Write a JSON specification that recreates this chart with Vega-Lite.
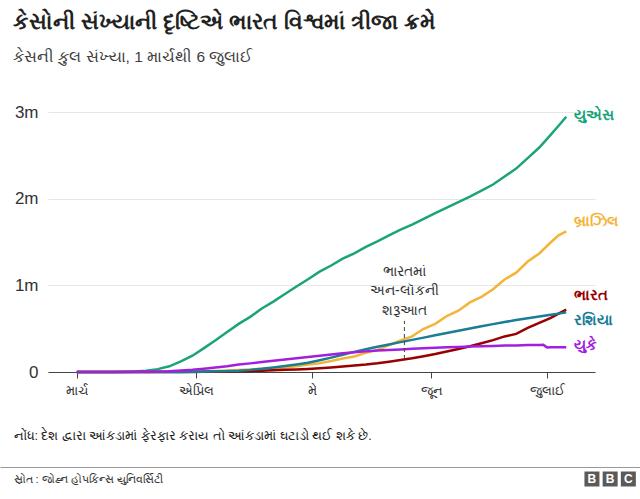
{
  "$schema": "https://vega.github.io/schema/vega-lite/v6.json",
  "background": "white",
  "padding": {"left": 13, "top": 12, "right": 0, "bottom": 0},
  "spacing": 100,
  "bounds": "flush",
  "title": {
    "text": "કેસોની સંખ્યાની દૃષ્ટિએ ભારત વિશ્વમાં ત્રીજા ક્રમે",
    "subtitle": "કેસની કુલ સંખ્યા, 1 માર્ચથી 6 જુલાઈ",
    "anchor": "start",
    "frame": "group",
    "dx": -35,
    "offset": 38,
    "fontSize": 21.5,
    "fontWeight": "bold",
    "color": "#222222",
    "subtitleFontSize": 15.5,
    "subtitleColor": "#404040",
    "subtitlePadding": 16
  },
  "config": {
    "view": {"stroke": null},
    "font": "Liberation Sans, Arial, sans-serif"
  },
  "datasets": {
    "cases": [
      {"country": "યુએસ", "date": "2020-03-01", "cases": 75},
      {"country": "યુએસ", "date": "2020-03-06", "cases": 319},
      {"country": "યુએસ", "date": "2020-03-10", "cases": 1000},
      {"country": "યુએસ", "date": "2020-03-13", "cases": 2200},
      {"country": "યુએસ", "date": "2020-03-16", "cases": 4600},
      {"country": "યુએસ", "date": "2020-03-19", "cases": 13700},
      {"country": "યુએસ", "date": "2020-03-22", "cases": 33300},
      {"country": "યુએસ", "date": "2020-03-25", "cases": 65800},
      {"country": "યુએસ", "date": "2020-03-28", "cases": 121500},
      {"country": "યુએસ", "date": "2020-03-31", "cases": 188000},
      {"country": "યુએસ", "date": "2020-04-03", "cases": 275600},
      {"country": "યુએસ", "date": "2020-04-06", "cases": 366600},
      {"country": "યુએસ", "date": "2020-04-09", "cases": 461400},
      {"country": "યુએસ", "date": "2020-04-12", "cases": 555300},
      {"country": "યુએસ", "date": "2020-04-15", "cases": 636400},
      {"country": "યુએસ", "date": "2020-04-18", "cases": 732200},
      {"country": "યુએસ", "date": "2020-04-21", "cases": 811900},
      {"country": "યુએસ", "date": "2020-04-24", "cases": 899300},
      {"country": "યુએસ", "date": "2020-04-27", "cases": 987300},
      {"country": "યુએસ", "date": "2020-04-30", "cases": 1069400},
      {"country": "યુએસ", "date": "2020-05-03", "cases": 1158000},
      {"country": "યુએસ", "date": "2020-05-06", "cases": 1229000},
      {"country": "યુએસ", "date": "2020-05-09", "cases": 1308000},
      {"country": "યુએસ", "date": "2020-05-12", "cases": 1370000},
      {"country": "યુએસ", "date": "2020-05-15", "cases": 1443000},
      {"country": "યુએસ", "date": "2020-05-18", "cases": 1508000},
      {"country": "યુએસ", "date": "2020-05-21", "cases": 1577000},
      {"country": "યુએસ", "date": "2020-05-24", "cases": 1643000},
      {"country": "યુએસ", "date": "2020-05-27", "cases": 1700000},
      {"country": "યુએસ", "date": "2020-05-30", "cases": 1767000},
      {"country": "યુએસ", "date": "2020-06-02", "cases": 1834000},
      {"country": "યુએસ", "date": "2020-06-05", "cases": 1897000},
      {"country": "યુએસ", "date": "2020-06-08", "cases": 1960000},
      {"country": "યુએસ", "date": "2020-06-11", "cases": 2024000},
      {"country": "યુએસ", "date": "2020-06-14", "cases": 2094000},
      {"country": "યુએસ", "date": "2020-06-17", "cases": 2163000},
      {"country": "યુએસ", "date": "2020-06-20", "cases": 2255000},
      {"country": "યુએસ", "date": "2020-06-23", "cases": 2347000},
      {"country": "યુએસ", "date": "2020-06-26", "cases": 2467000},
      {"country": "યુએસ", "date": "2020-06-29", "cases": 2590000},
      {"country": "યુએસ", "date": "2020-07-02", "cases": 2739000},
      {"country": "યુએસ", "date": "2020-07-04", "cases": 2841000},
      {"country": "યુએસ", "date": "2020-07-06", "cases": 2945000},
      {"country": "બ્રાઝિલ", "date": "2020-03-01", "cases": 2},
      {"country": "બ્રાઝિલ", "date": "2020-03-06", "cases": 13},
      {"country": "બ્રાઝિલ", "date": "2020-03-10", "cases": 31},
      {"country": "બ્રાઝિલ", "date": "2020-03-13", "cases": 151},
      {"country": "બ્રાઝિલ", "date": "2020-03-16", "cases": 234},
      {"country": "બ્રાઝિલ", "date": "2020-03-19", "cases": 621},
      {"country": "બ્રાઝિલ", "date": "2020-03-22", "cases": 1593},
      {"country": "બ્રાઝિલ", "date": "2020-03-25", "cases": 2554},
      {"country": "બ્રાઝિલ", "date": "2020-03-28", "cases": 3904},
      {"country": "બ્રાઝિલ", "date": "2020-03-31", "cases": 5717},
      {"country": "બ્રાઝિલ", "date": "2020-04-03", "cases": 9216},
      {"country": "બ્રાઝિલ", "date": "2020-04-06", "cases": 12240},
      {"country": "બ્રાઝિલ", "date": "2020-04-09", "cases": 17857},
      {"country": "બ્રાઝિલ", "date": "2020-04-12", "cases": 22192},
      {"country": "બ્રાઝિલ", "date": "2020-04-15", "cases": 28320},
      {"country": "બ્રાઝિલ", "date": "2020-04-18", "cases": 36722},
      {"country": "બ્રાઝિલ", "date": "2020-04-21", "cases": 43079},
      {"country": "બ્રાઝિલ", "date": "2020-04-24", "cases": 52995},
      {"country": "બ્રાઝિલ", "date": "2020-04-27", "cases": 66501},
      {"country": "બ્રાઝિલ", "date": "2020-04-30", "cases": 87187},
      {"country": "બ્રાઝિલ", "date": "2020-05-03", "cases": 101826},
      {"country": "બ્રાઝિલ", "date": "2020-05-06", "cases": 126611},
      {"country": "બ્રાઝિલ", "date": "2020-05-09", "cases": 155939},
      {"country": "બ્રાઝિલ", "date": "2020-05-12", "cases": 178214},
      {"country": "બ્રાઝિલ", "date": "2020-05-15", "cases": 220291},
      {"country": "બ્રાઝિલ", "date": "2020-05-18", "cases": 254220},
      {"country": "બ્રાઝિલ", "date": "2020-05-21", "cases": 310087},
      {"country": "બ્રાઝિલ", "date": "2020-05-24", "cases": 363211},
      {"country": "બ્રાઝિલ", "date": "2020-05-27", "cases": 411821},
      {"country": "બ્રાઝિલ", "date": "2020-05-30", "cases": 498440},
      {"country": "બ્રાઝિલ", "date": "2020-06-02", "cases": 555383},
      {"country": "બ્રાઝિલ", "date": "2020-06-05", "cases": 645771},
      {"country": "બ્રાઝિલ", "date": "2020-06-08", "cases": 707412},
      {"country": "બ્રાઝિલ", "date": "2020-06-11", "cases": 802828},
      {"country": "બ્રાઝિલ", "date": "2020-06-14", "cases": 867624},
      {"country": "બ્રાઝિલ", "date": "2020-06-17", "cases": 955377},
      {"country": "બ્રાઝિલ", "date": "2020-06-20", "cases": 1067579},
      {"country": "બ્રાઝિલ", "date": "2020-06-23", "cases": 1145906},
      {"country": "બ્રાઝિલ", "date": "2020-06-26", "cases": 1274974},
      {"country": "બ્રાઝિલ", "date": "2020-06-29", "cases": 1368195},
      {"country": "બ્રાઝિલ", "date": "2020-07-02", "cases": 1496858},
      {"country": "બ્રાઝિલ", "date": "2020-07-04", "cases": 1577004},
      {"country": "બ્રાઝિલ", "date": "2020-07-06", "cases": 1623284},
      {"country": "ભારત", "date": "2020-03-01", "cases": 3},
      {"country": "ભારત", "date": "2020-03-06", "cases": 31},
      {"country": "ભારત", "date": "2020-03-10", "cases": 56},
      {"country": "ભારત", "date": "2020-03-13", "cases": 82},
      {"country": "ભારત", "date": "2020-03-16", "cases": 114},
      {"country": "ભારત", "date": "2020-03-19", "cases": 194},
      {"country": "ભારત", "date": "2020-03-22", "cases": 396},
      {"country": "ભારત", "date": "2020-03-25", "cases": 657},
      {"country": "ભારત", "date": "2020-03-28", "cases": 987},
      {"country": "ભારત", "date": "2020-03-31", "cases": 1397},
      {"country": "ભારત", "date": "2020-04-03", "cases": 2567},
      {"country": "ભારત", "date": "2020-04-06", "cases": 4778},
      {"country": "ભારત", "date": "2020-04-09", "cases": 6725},
      {"country": "ભારત", "date": "2020-04-12", "cases": 9205},
      {"country": "ભારત", "date": "2020-04-15", "cases": 12322},
      {"country": "ભારત", "date": "2020-04-18", "cases": 15722},
      {"country": "ભારત", "date": "2020-04-21", "cases": 20080},
      {"country": "ભારત", "date": "2020-04-24", "cases": 24530},
      {"country": "ભારત", "date": "2020-04-27", "cases": 29451},
      {"country": "ભારત", "date": "2020-04-30", "cases": 34863},
      {"country": "ભારત", "date": "2020-05-03", "cases": 42836},
      {"country": "ભારત", "date": "2020-05-06", "cases": 52987},
      {"country": "ભારત", "date": "2020-05-09", "cases": 62808},
      {"country": "ભારત", "date": "2020-05-12", "cases": 74281},
      {"country": "ભારત", "date": "2020-05-15", "cases": 85784},
      {"country": "ભારત", "date": "2020-05-18", "cases": 100328},
      {"country": "ભારત", "date": "2020-05-21", "cases": 118226},
      {"country": "ભારત", "date": "2020-05-24", "cases": 138536},
      {"country": "ભારત", "date": "2020-05-27", "cases": 158086},
      {"country": "ભારત", "date": "2020-05-30", "cases": 181827},
      {"country": "ભારત", "date": "2020-06-02", "cases": 207191},
      {"country": "ભારત", "date": "2020-06-05", "cases": 236184},
      {"country": "ભારત", "date": "2020-06-08", "cases": 265928},
      {"country": "ભારત", "date": "2020-06-11", "cases": 297535},
      {"country": "ભારત", "date": "2020-06-14", "cases": 332424},
      {"country": "ભારત", "date": "2020-06-17", "cases": 367264},
      {"country": "ભારત", "date": "2020-06-20", "cases": 410461},
      {"country": "ભારત", "date": "2020-06-23", "cases": 440215},
      {"country": "ભારત", "date": "2020-06-26", "cases": 508953},
      {"country": "ભારત", "date": "2020-06-29", "cases": 566840},
      {"country": "ભારત", "date": "2020-07-02", "cases": 625544},
      {"country": "ભારત", "date": "2020-07-04", "cases": 673165},
      {"country": "ભારત", "date": "2020-07-06", "cases": 719665},
      {"country": "રશિયા", "date": "2020-03-01", "cases": 2},
      {"country": "રશિયા", "date": "2020-03-06", "cases": 4},
      {"country": "રશિયા", "date": "2020-03-10", "cases": 10},
      {"country": "રશિયા", "date": "2020-03-13", "cases": 45},
      {"country": "રશિયા", "date": "2020-03-16", "cases": 63},
      {"country": "રશિયા", "date": "2020-03-19", "cases": 199},
      {"country": "રશિયા", "date": "2020-03-22", "cases": 367},
      {"country": "રશિયા", "date": "2020-03-25", "cases": 658},
      {"country": "રશિયા", "date": "2020-03-28", "cases": 1264},
      {"country": "રશિયા", "date": "2020-03-31", "cases": 2337},
      {"country": "રશિયા", "date": "2020-04-03", "cases": 4149},
      {"country": "રશિયા", "date": "2020-04-06", "cases": 7497},
      {"country": "રશિયા", "date": "2020-04-09", "cases": 10131},
      {"country": "રશિયા", "date": "2020-04-12", "cases": 15770},
      {"country": "રશિયા", "date": "2020-04-15", "cases": 24490},
      {"country": "રશિયા", "date": "2020-04-18", "cases": 36793},
      {"country": "રશિયા", "date": "2020-04-21", "cases": 52763},
      {"country": "રશિયા", "date": "2020-04-24", "cases": 68622},
      {"country": "રશિયા", "date": "2020-04-27", "cases": 87147},
      {"country": "રશિયા", "date": "2020-04-30", "cases": 106498},
      {"country": "રશિયા", "date": "2020-05-03", "cases": 134687},
      {"country": "રશિયા", "date": "2020-05-06", "cases": 165929},
      {"country": "રશિયા", "date": "2020-05-09", "cases": 198676},
      {"country": "રશિયા", "date": "2020-05-12", "cases": 232243},
      {"country": "રશિયા", "date": "2020-05-15", "cases": 262843},
      {"country": "રશિયા", "date": "2020-05-18", "cases": 290678},
      {"country": "રશિયા", "date": "2020-05-21", "cases": 317554},
      {"country": "રશિયા", "date": "2020-05-24", "cases": 344481},
      {"country": "રશિયા", "date": "2020-05-27", "cases": 370680},
      {"country": "રશિયા", "date": "2020-05-30", "cases": 396575},
      {"country": "રશિયા", "date": "2020-06-02", "cases": 423186},
      {"country": "રશિયા", "date": "2020-06-05", "cases": 449256},
      {"country": "રશિયા", "date": "2020-06-08", "cases": 476658},
      {"country": "રશિયા", "date": "2020-06-11", "cases": 502436},
      {"country": "રશિયા", "date": "2020-06-14", "cases": 528267},
      {"country": "રશિયા", "date": "2020-06-17", "cases": 552549},
      {"country": "રશિયા", "date": "2020-06-20", "cases": 576952},
      {"country": "રશિયા", "date": "2020-06-23", "cases": 598878},
      {"country": "રશિયા", "date": "2020-06-26", "cases": 619936},
      {"country": "રશિયા", "date": "2020-06-29", "cases": 640246},
      {"country": "રશિયા", "date": "2020-07-02", "cases": 660231},
      {"country": "રશિયા", "date": "2020-07-04", "cases": 673564},
      {"country": "રશિયા", "date": "2020-07-06", "cases": 687862},
      {"country": "યુકે", "date": "2020-03-01", "cases": 36},
      {"country": "યુકે", "date": "2020-03-06", "cases": 164},
      {"country": "યુકે", "date": "2020-03-10", "cases": 384},
      {"country": "યુકે", "date": "2020-03-13", "cases": 801},
      {"country": "યુકે", "date": "2020-03-16", "cases": 1551},
      {"country": "યુકે", "date": "2020-03-19", "cases": 2716},
      {"country": "યુકે", "date": "2020-03-22", "cases": 5741},
      {"country": "યુકે", "date": "2020-03-25", "cases": 9640},
      {"country": "યુકે", "date": "2020-03-28", "cases": 17312},
      {"country": "યુકે", "date": "2020-03-31", "cases": 25481},
      {"country": "યુકે", "date": "2020-04-03", "cases": 38689},
      {"country": "યુકે", "date": "2020-04-06", "cases": 52279},
      {"country": "યુકે", "date": "2020-04-09", "cases": 65872},
      {"country": "યુકે", "date": "2020-04-12", "cases": 85206},
      {"country": "યુકે", "date": "2020-04-15", "cases": 99483},
      {"country": "યુકે", "date": "2020-04-18", "cases": 115314},
      {"country": "યુકે", "date": "2020-04-21", "cases": 130172},
      {"country": "યુકે", "date": "2020-04-24", "cases": 144640},
      {"country": "યુકે", "date": "2020-04-27", "cases": 158348},
      {"country": "યુકે", "date": "2020-04-30", "cases": 172481},
      {"country": "યુકે", "date": "2020-05-03", "cases": 187842},
      {"country": "યુકે", "date": "2020-05-06", "cases": 202359},
      {"country": "યુકે", "date": "2020-05-09", "cases": 216525},
      {"country": "યુકે", "date": "2020-05-12", "cases": 227741},
      {"country": "યુકે", "date": "2020-05-15", "cases": 238004},
      {"country": "યુકે", "date": "2020-05-18", "cases": 247709},
      {"country": "યુકે", "date": "2020-05-21", "cases": 254195},
      {"country": "યુકે", "date": "2020-05-24", "cases": 260916},
      {"country": "યુકે", "date": "2020-05-27", "cases": 267240},
      {"country": "યુકે", "date": "2020-05-30", "cases": 273293},
      {"country": "યુકે", "date": "2020-06-02", "cases": 279392},
      {"country": "યુકે", "date": "2020-06-05", "cases": 284734},
      {"country": "યુકે", "date": "2020-06-08", "cases": 287621},
      {"country": "યુકે", "date": "2020-06-11", "cases": 292860},
      {"country": "યુકે", "date": "2020-06-14", "cases": 296857},
      {"country": "યુકે", "date": "2020-06-17", "cases": 300469},
      {"country": "યુકે", "date": "2020-06-20", "cases": 304580},
      {"country": "યુકે", "date": "2020-06-23", "cases": 306862},
      {"country": "યુકે", "date": "2020-06-26", "cases": 310250},
      {"country": "યુકે", "date": "2020-06-29", "cases": 312654},
      {"country": "યુકે", "date": "2020-06-30", "cases": 313483},
      {"country": "યુકે", "date": "2020-07-01", "cases": 284000},
      {"country": "યુકે", "date": "2020-07-02", "cases": 284900},
      {"country": "યુકે", "date": "2020-07-04", "cases": 285800},
      {"country": "યુકે", "date": "2020-07-06", "cases": 287000}
    ],
    "unlock": [
      {"date": "2020-05-25", "low": 150000, "high": 590000, "label": ["ભારતમાં", "અન-લૉકની", "શરૂઆત"]}
    ],
    "bbc": [
      {"k": 1, "t": "B"},
      {"k": 2, "t": "B"},
      {"k": 3, "t": "C"}
    ]
  },
  "vconcat": [
    {
      "width": 547,
      "height": 260,
      "encoding": {
        "x": {
          "field": "date",
          "type": "temporal",
          "scale": {
            "type": "utc",
            "domain": [
              {"year": 2020, "month": 2, "date": 22, "hours": 12, "minutes": 30, "utc": true},
              {"year": 2020, "month": 7, "date": 13, "hours": 11, "utc": true}
            ]
          },
          "axis": {
            "values": [
              {"year": 2020, "month": 3, "date": 1, "utc": true},
              {"year": 2020, "month": 4, "date": 1, "utc": true},
              {"year": 2020, "month": 5, "date": 1, "utc": true},
              {"year": 2020, "month": 6, "date": 1, "utc": true},
              {"year": 2020, "month": 7, "date": 1, "utc": true}
            ],
            "labelExpr": "['','','માર્ચ','એપ્રિલ','મે','જૂન','જુલાઈ'][utcmonth(datum.value)]",
            "title": "નોંધ: દેશ દ્વારા આંકડામાં ફેરફાર કરાય તો આંકડામાં ઘટાડો થઈ શકે છે.",
            "titleX": -35,
            "titleY": 63,
            "titleAlign": "left",
            "titleAnchor": "start",
            "titleBaseline": "middle",
            "titleFontSize": 12.5,
            "titleFontWeight": "normal",
            "titleColor": "#222222",
            "domainColor": "#444444",
            "domainWidth": 1.2,
            "tickColor": "#444444",
            "tickSize": 6,
            "labelFontSize": 13,
            "labelColor": "#333333",
            "labelPadding": 6,
            "grid": false
          }
        }
      },
      "layer": [
        {
          "data": {"name": "cases"},
          "mark": {"type": "line", "strokeWidth": 2.5},
          "encoding": {
            "y": {
              "field": "cases",
              "type": "quantitative",
              "scale": {"domain": [0, 3000000]},
              "axis": {
                "values": [0, 1000000, 2000000, 3000000],
                "labelExpr": "datum.value == 0 ? '0' : (datum.value / 1000000) + 'm'",
                "title": null,
                "domain": false,
                "ticks": false,
                "grid": true,
                "gridColor": "#e6e6e6",
                "labelFontSize": 17,
                "labelColor": "#333333",
                "labelPadding": 10
              }
            },
            "color": {
              "field": "country",
              "type": "nominal",
              "scale": {
                "domain": ["યુએસ", "બ્રાઝિલ", "રશિયા", "યુકે", "ભારત"],
                "range": ["#1ba37a", "#f3b43a", "#1a7d96", "#a21fde", "#990000"]
              },
              "legend": null
            }
          }
        },
        {
          "data": {"name": "unlock"},
          "mark": {"type": "rule", "strokeDash": [4, 3], "color": "#444444", "strokeWidth": 1},
          "encoding": {
            "y": {"field": "low", "type": "quantitative"},
            "y2": {"field": "high"}
          }
        },
        {
          "data": {"name": "unlock"},
          "mark": {"type": "text", "align": "center", "baseline": "bottom", "dy": -42, "fontSize": 14, "lineHeight": 19.5, "color": "#333333"},
          "encoding": {
            "y": {"field": "high", "type": "quantitative"},
            "text": {"field": "label"}
          }
        },
        {
          "data": {"name": "cases"},
          "transform": [{"filter": "datum.country == 'યુએસ' && time(datum.date) == utc(2020, 6, 6)"}],
          "mark": {"type": "text", "align": "left", "baseline": "middle", "dx": 8, "dy": -2, "fontSize": 15, "fontWeight": "bold"},
          "encoding": {
            "y": {"field": "cases", "type": "quantitative"},
            "text": {"field": "country"},
            "color": {"field": "country", "type": "nominal", "legend": null}
          }
        },
        {
          "data": {"name": "cases"},
          "transform": [{"filter": "datum.country == 'બ્રાઝિલ' && time(datum.date) == utc(2020, 6, 6)"}],
          "mark": {"type": "text", "align": "left", "baseline": "middle", "dx": 8, "dy": -10, "fontSize": 15, "fontWeight": "bold"},
          "encoding": {
            "y": {"field": "cases", "type": "quantitative"},
            "text": {"field": "country"},
            "color": {"field": "country", "type": "nominal", "legend": null}
          }
        },
        {
          "data": {"name": "cases"},
          "transform": [{"filter": "datum.country == 'ભારત' && time(datum.date) == utc(2020, 6, 6)"}],
          "mark": {"type": "text", "align": "left", "baseline": "middle", "dx": 8, "dy": -15, "fontSize": 15, "fontWeight": "bold"},
          "encoding": {
            "y": {"field": "cases", "type": "quantitative"},
            "text": {"field": "country"},
            "color": {"field": "country", "type": "nominal", "legend": null}
          }
        },
        {
          "data": {"name": "cases"},
          "transform": [{"filter": "datum.country == 'રશિયા' && time(datum.date) == utc(2020, 6, 6)"}],
          "mark": {"type": "text", "align": "left", "baseline": "middle", "dx": 8, "dy": 8, "fontSize": 15, "fontWeight": "bold"},
          "encoding": {
            "y": {"field": "cases", "type": "quantitative"},
            "text": {"field": "country"},
            "color": {"field": "country", "type": "nominal", "legend": null}
          }
        },
        {
          "data": {"name": "cases"},
          "transform": [{"filter": "datum.country == 'યુકે' && time(datum.date) == utc(2020, 6, 6)"}],
          "mark": {"type": "text", "align": "left", "baseline": "middle", "dx": 8, "dy": -2, "fontSize": 15, "fontWeight": "bold"},
          "encoding": {
            "y": {"field": "cases", "type": "quantitative"},
            "text": {"field": "country"},
            "color": {"field": "country", "type": "nominal", "legend": null}
          }
        }
      ]
    },
    {
      "width": 592,
      "height": 14,
      "data": {"name": "bbc"},
      "encoding": {
        "x": {
          "field": "k",
          "type": "quantitative",
          "scale": {"domain": [-31.52, 3.64], "range": [-48, 592], "nice": false, "zero": false},
          "axis": {
            "orient": "top",
            "offset": 5,
            "labels": false,
            "ticks": false,
            "grid": false,
            "domain": true,
            "domainColor": "#999999",
            "title": "સ્રોત : જોહ્ન હોપકિન્સ યુનિવર્સિટી",
            "titleX": -35,
            "titleY": 12,
            "titleAlign": "left",
            "titleAnchor": "start",
            "titleBaseline": "middle",
            "titleFontSize": 11,
            "titleFontWeight": "normal",
            "titleColor": "#333333"
          }
        }
      },
      "layer": [
        {"mark": {"type": "square", "color": "#5a5a5a", "filled": true, "opacity": 1, "size": 225}},
        {
          "mark": {"type": "text", "color": "white", "fontWeight": "bold", "fontSize": 12, "baseline": "middle"},
          "encoding": {"text": {"field": "t"}}
        }
      ]
    }
  ]
}
